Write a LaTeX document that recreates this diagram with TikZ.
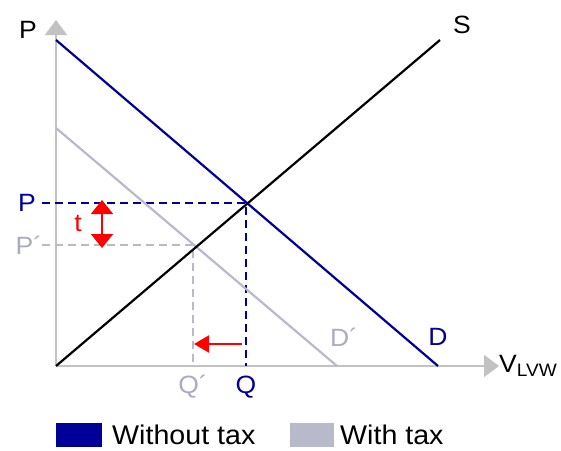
\documentclass[tikz,border=0pt]{standalone}
\usepackage{fontspec}
\setmainfont[FakeStretch=1.06]{Liberation Sans}
\usetikzlibrary{arrows.meta}
\definecolor{navy}{RGB}{0,0,153}
\definecolor{taxgray}{RGB}{184,186,204}
\definecolor{axgray}{RGB}{194,194,194}
\definecolor{lblgray}{RGB}{170,172,192}
\begin{document}
\begin{tikzpicture}[x=1pt,y=-1pt,
  axis/.style={draw=axgray,line width=2pt,-{Triangle[length=15pt,width=22pt]}},
  curve/.style={line width=2.2pt},
  guide/.style={line width=2pt,dash pattern=on 8pt off 5pt},
  lbl/.style={inner sep=0pt,font=\fontsize{25}{25}\selectfont},
  leg/.style={inner sep=0pt,anchor=west,font=\fontsize{27}{27}\selectfont},
  redarrow/.style={draw=red,line width=2pt}]
\useasboundingbox (0,0) rectangle (561,450);
% key points
\coordinate (O) at (56,366);
\coordinate (ytip) at (56,20);
\coordinate (xtip) at (499,366);
\coordinate (Dtop) at (56,40);
\coordinate (Dbot) at (438,366);
\coordinate (D2top) at (56,128);
\coordinate (D2bot) at (337,366);
\coordinate (Stop) at (440,40);
\coordinate (E) at (246,203);
\coordinate (E2) at (193,245);
\coordinate (Pl) at (42,203);
\coordinate (P2l) at (42,245);
\coordinate (Qb) at (246,366);
\coordinate (Q2b) at (193,366);
\coordinate (tA) at (102,200);
\coordinate (tB) at (102,248);
\coordinate (aS) at (242,344);
\coordinate (aE) at (194,344);
% axes
\draw[axis] (O) -- (xtip);
\draw[axis] (O) -- (ytip);
% guides
\draw[guide,draw=taxgray] (P2l) -- (E2) -- (Q2b);
\draw[guide,draw=navy] (Pl) -- (E) -- (Qb);
% curves
\draw[curve,draw=taxgray] (D2top) -- (D2bot);
\draw[curve,draw=navy] (Dtop) -- (Dbot);
\draw[curve,draw=black] (O) -- (Stop);
% red arrows
\draw[redarrow,{Triangle[length=14pt,width=22pt]}-{Triangle[length=14pt,width=22pt]}] (tA) -- (tB);
\draw[redarrow,-{Triangle[length=15pt,width=17pt]}] (aS) -- (aE);
% labels
\node[lbl] (lP) at (28,30) {P};
\node[lbl] (lS) at (462,25) {S};
\node[lbl,text=navy] (lPe) at (27,203) {P};
\node[lbl,text=lblgray] (lP2) at (29,245) {P´};
\node[lbl,text=red] (lt) at (78,224) {t};
\node[lbl,text=lblgray] (lQ2) at (193,387) {Q´};
\node[lbl,text=navy] (lQ) at (246,387) {Q};
\node[lbl,text=lblgray] (lD2) at (344,337) {D´};
\node[lbl,text=navy] (lD) at (438,337) {D};
\node[lbl,anchor=west] (lV) at (499,366) {V\textsubscript{\fontsize{18}{18}\selectfont LVW}};
% legend
\node[fill=navy,minimum width=46pt,minimum height=24pt,inner sep=0pt,anchor=north west] (k1) at (56,423) {};
\node[leg] (t1) at (112,435) {Without tax};
\node[fill=taxgray,minimum width=44pt,minimum height=24pt,inner sep=0pt,anchor=north west] (k2) at (290,423) {};
\node[leg] (t2) at (340,435) {With tax};
\end{tikzpicture}
\end{document}
